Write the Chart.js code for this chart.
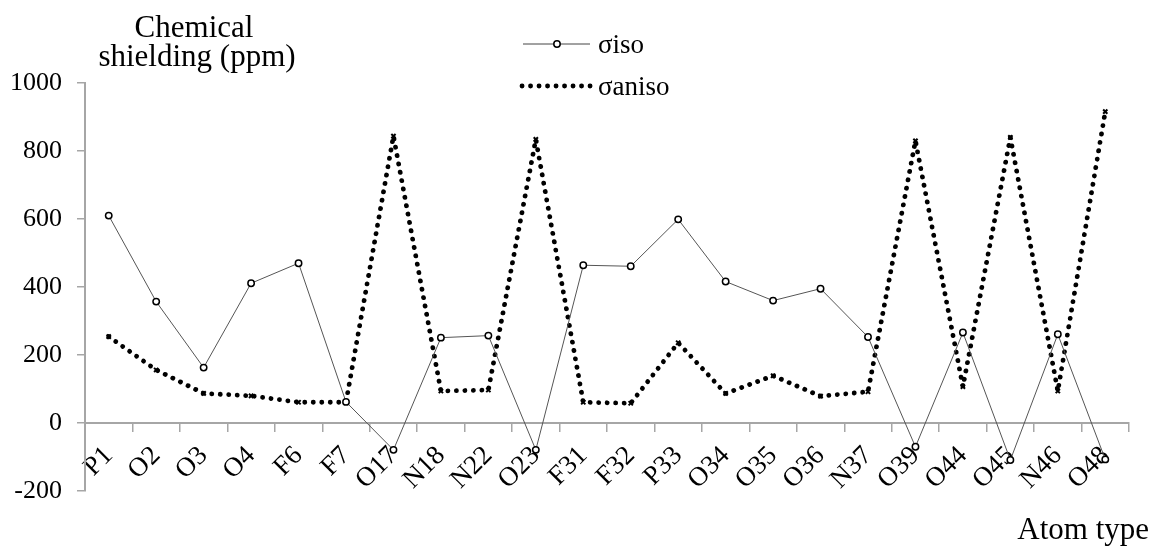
<!DOCTYPE html>
<html>
<head>
<meta charset="utf-8">
<script src="https://cdn.jsdelivr.net/npm/chart.js@4"></script>
<style>
  body { margin: 0; background: #fff; }
</style>
</head>
<body>
<canvas id="chart" width="1155" height="549"></canvas>
<script>
const atoms = ['P1', 'O2', 'O3', 'O4', 'F6', 'F7', 'O17', 'N18', 'N22', 'O23', 'F31',
    'F32', 'P33', 'O34', 'O35', 'O36', 'N37', 'O39', 'O44', 'O45', 'N46', 'O48'];
const sigmaIso = [610, 357, 163, 411, 470, 62, -79, 251, 257, -79, 464,
    461, 599, 416, 360, 395, 253, -70, 266, -109, 261, -107];
const sigmaAniso = [254, 156, 87, 80, 61, 61, 844, 94, 97, 834, 61,
    58, 236, 87, 139, 79, 92, 830, 107, 840, 94, 916];
const yTicks = [-200, 0, 200, 400, 600, 800, 1000];

const serif = '"Liberation Serif", "Times New Roman", serif';
const axisGrey = '#a6a6a6';

// titles and the little legend are drawn by hand, the excel way
const extras = {
    id: 'extras',
    afterDraw(chart) {
        const ctx = chart.ctx;
        ctx.save();
        ctx.fillStyle = '#000';
        ctx.font = '31px ' + serif;
        ctx.textAlign = 'center';
        ctx.textBaseline = 'alphabetic';
        ctx.fillText('Chemical', 194, 37);
        ctx.fillText('shielding (ppm)', 197, 66);
        ctx.textAlign = 'right';
        ctx.fillText('Atom type', 1149, 539);

        // σiso entry
        ctx.strokeStyle = '#444';
        ctx.lineWidth = 1;
        ctx.beginPath();
        ctx.moveTo(523, 44);
        ctx.lineTo(590, 44);
        ctx.stroke();
        ctx.fillStyle = '#fff';
        ctx.strokeStyle = '#000';
        ctx.lineWidth = 1.5;
        ctx.beginPath();
        ctx.arc(557, 44, 3.2, 0, Math.PI * 2);
        ctx.fill();
        ctx.stroke();

        // σaniso entry
        ctx.strokeStyle = '#000';
        ctx.lineWidth = 4.8;
        ctx.lineCap = 'round';
        ctx.setLineDash([0.1, 8.4]);
        ctx.beginPath();
        ctx.moveTo(522, 86);
        ctx.lineTo(591, 86);
        ctx.stroke();
        ctx.setLineDash([]);

        ctx.fillStyle = '#000';
        ctx.textAlign = 'left';
        ctx.font = '27px ' + serif;
        ctx.fillText('σiso', 598, 53);
        ctx.fillText('σaniso', 598, 95);
        ctx.restore();
    }
};

new Chart(document.getElementById('chart'), {
    type: 'line',
    data: {
        labels: atoms,
        datasets: [{
            label: 'σiso',
            data: sigmaIso,
            borderColor: '#555',
            borderWidth: 1,
            pointStyle: 'circle',
            pointRadius: 3.2,
            pointBorderWidth: 1.5,
            pointBorderColor: '#000',
            pointBackgroundColor: '#fff',
            tension: 0
        }, {
            label: 'σaniso',
            data: sigmaAniso,
            borderColor: '#000',
            borderWidth: 4.8,
            borderCapStyle: 'round',
            borderDash: [0.1, 8.4],
            pointStyle: 'crossRot',
            pointRadius: 3,
            pointBorderWidth: 2,
            pointBorderColor: '#000',
            tension: 0
        }]
    },
    options: {
        responsive: false,
        animation: false,
        layout: {
            padding: { left: 0, right: 26, top: 83, bottom: 58 }
        },
        scales: {
            x: {
                position: { y: 0 },
                offset: true,
                grid: {
                    drawOnChartArea: false,
                    drawTicks: true,
                    tickLength: 8,
                    offset: true,
                    color: axisGrey,
                    lineWidth: 1.5
                },
                border: { color: axisGrey, width: 2 },
                ticks: {
                    color: '#000',
                    font: { family: serif, size: 27 },
                    minRotation: 45,
                    maxRotation: 45,
                    autoSkip: false,
                    padding: 9
                }
            },
            y: {
                min: -200,
                max: 1000,
                afterFit: s => { s.width = 85; },
                afterBuildTicks: s => { s.ticks = yTicks.map(v => ({ value: v })); },
                grid: {
                    drawOnChartArea: false,
                    drawTicks: true,
                    tickLength: 8,
                    color: axisGrey,
                    lineWidth: 1.5
                },
                border: { color: axisGrey, width: 2 },
                ticks: {
                    color: '#000',
                    font: { family: serif, size: 26 },
                    padding: 15,
                    callback: v => String(v)
                }
            }
        },
        plugins: {
            legend: { display: false },
            tooltip: { enabled: false }
        }
    },
    plugins: [extras]
});
</script>
</body>
</html>
